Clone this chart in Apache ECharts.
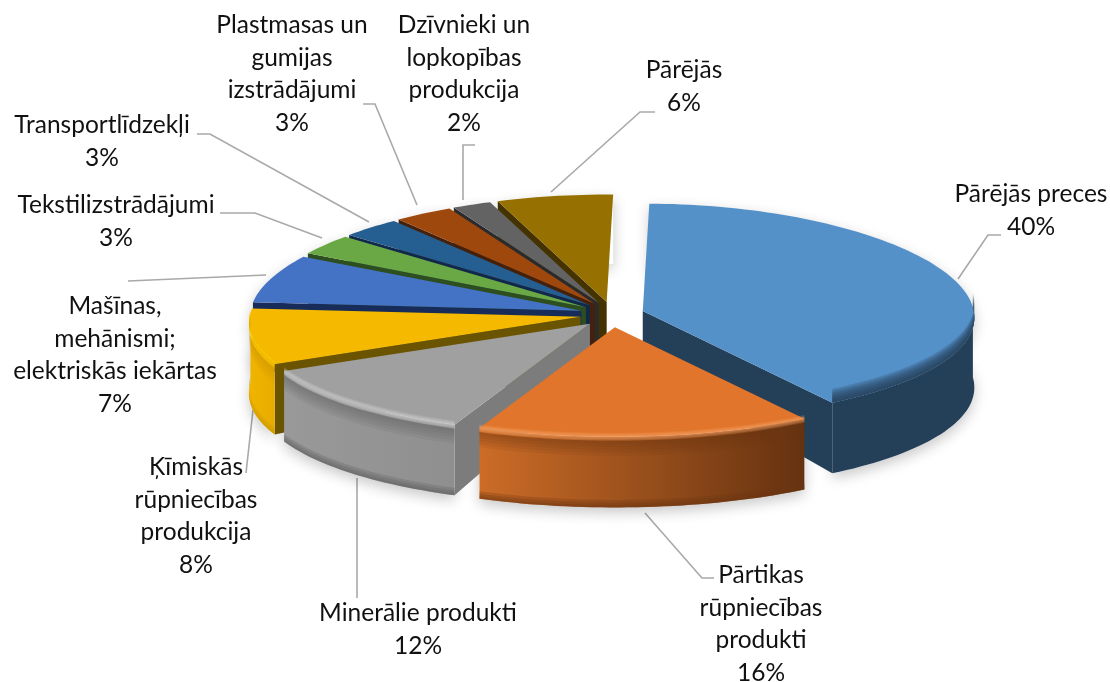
<!DOCTYPE html>
<html><head><meta charset="utf-8">
<style>html,body{margin:0;padding:0;background:#fff}#c{width:1110px;height:682px}</style>
<script src="https://cdn.jsdelivr.net/npm/echarts@6/dist/echarts.min.js"></script>
</head><body><div id="c"></div>
<script>
// ---- data ----
const categories = ['Pārējās preces','Pārtikas\nrūpniecības\nprodukti','Minerālie produkti','Ķīmiskās\nrūpniecības\nprodukcija','Mašīnas,\nmehānismi;\nelektriskās iekārtas','Tekstilizstrādājumi','Transportlīdzekļi','Plastmasas un\ngumijas\nizstrādājumi','Dzīvnieki un\nlopkopības\nprodukcija','Pārējās'];
const shares = [40.49,15.51,11.51,8.39,7.1,3,3,3,2,6];
// ---- styles and layout ----
const topColors = ['#5591c9','#e0752b','#a0a0a0','#f5ba00','#4472c4','#6aa845','#255e91','#9e480e','#636363','#967000'];
const cutColors = ['#243f58','#6b3511','#7c7c7c','#6b5400','#172c58','#2d4e1f','#10294a','#45200a','#2b2b2b','#443300'];
const wallLeft  = ['#243f58','#cc6c27','#999999','#f0b400','#172c58','#2d4e1f','#10294a','#45200a','#2b2b2b','#443300'];
const wallRight = ['#243f58','#653210','#8f8f8f','#e8ac00','#172c58','#2d4e1f','#10294a','#45200a','#2b2b2b','#443300'];
const bevel = [{c:'36,63,88',up:true},{c:'107,53,17',h:'#f8a468'},{c:'95,95,95',h:'#d8d8d8'},{c:'200,150,0',h:'#ffd000'},null,null,null,null,null,null];
const drawOrder = [9,8,7,6,5,4,3,2,0,1];
const G = {cx:612,cy:314.5,ex:32,ey:12.7,rx:331,ry:108.5,px:.06,py:.01,depth:70,rot:1.2};
const labelCenters = [[1031,194],[761,575],[418,613],[196,467],[115,306],[116,205],[102,125],[292,25],[464,25],[684,70]];
const leaders = [
 [[958,279],[988,235],[1001,235]],
 [[645,513],[702,578],[714,578]],
 [[357,478],[357,598]],
 [[253,410],[246,473]],
 [[266,275],[128,281]],
 [[322,238],[255,213],[220,213]],
 [[369,222],[210,134],[197,134]],
 [[417,205],[375,104],[363,104]],
 [[463,200],[463,145],[475,145]],
 [[551,192],[640,112],[655,112]]
];
const FONT = 'Lato, Carlito, "Noto Sans", sans-serif';
const FS = 24.5, LH = 32.6;

const total = shares.reduce((a,b)=>a+b,0);
const starts = []; shares.reduce((s,v,i)=>{starts[i]=s;return s+v;},0);
const rad = d=>d*Math.PI/180;
function span(i){const a=G.rot+starts[i]/total*360;return [a,a+shares[i]/total*360];}
function apex(i){const [a,b]=span(i);const m=rad((a+b)/2);return [G.cx+G.ex*Math.sin(m),G.cy-G.ey*Math.cos(m)];}
function rim(ap,deg,dy){const X=Math.sin(rad(deg)),Y=-Math.cos(rad(deg));
  return [ap[0]+G.rx*X*(1+G.px*Y),ap[1]+G.ry*Y*(1+G.py*Y)+(dy||0)];}
function arc(ap,a,b,dy){const n=Math.max(2,Math.ceil((b-a)/1.5));const p=[];for(let k=0;k<=n;k++)p.push(rim(ap,a+(b-a)*k/n,dy));return p;}
const depthAt=deg=>G.depth*(1+G.py*(-Math.cos(rad(deg))));
function lowerArc(ap,a,b){const n=Math.max(2,Math.ceil((b-a)/1.5));const p=[];for(let k=0;k<=n;k++){const d=a+(b-a)*k/n;p.push(rim(ap,d,depthAt(d)));}return p;}
function frontRange(a,b){const lo=Math.max(a,88),hi=Math.min(b,272);return lo<hi?[lo,hi]:null;}
const band=(ap,r,d1,d2)=>arc(ap,r[0],r[1],d1).concat(arc(ap,r[0],r[1],d2).reverse());

function renderSlice(params,api){
  const i=api.value(0), [a,b]=span(i), ap=apex(i), o=drawOrder.indexOf(i)*20;
  const kids=[];
  const poly=(pts,style,z,type)=>kids.push({type:type||'polygon',shape:{points:pts},style,z2:o+z,silent:true});
  const upper=arc(ap,a,b), lower=lowerArc(ap,a,b);
  const apB=[ap[0],ap[1]+G.depth*.78];
  // ground shadow
  poly(upper.concat(lower.slice().reverse()),{fill:'#fff',shadowColor:'rgba(0,0,0,.22)',shadowBlur:14,shadowOffsetY:5},-1000-o);
  // cut faces: only those turned towards the viewer
  if(Math.sin(rad(a))<-.1) poly([ap,rim(ap,a),rim(ap,a,depthAt(a)),apB],{fill:cutColors[i]},1);
  if(Math.sin(rad(b))>.1) poly([ap,rim(ap,b),rim(ap,b,depthAt(b)),apB],{fill:cutColors[i]},2);
  // outer wall
  const fw=frontRange(a,b);
  if(fw){const u=arc(ap,fw[0],fw[1]),l=lowerArc(ap,fw[0],fw[1]);
    poly(u.concat(l.reverse()),{fill:new echarts.graphic.LinearGradient(0,0,1,0,[{offset:0,color:wallLeft[i]},{offset:1,color:wallRight[i]}])},3);}
  // top
  poly([ap].concat(upper),{fill:topColors[i]},4);
  // bevel
  const bv=bevel[i], fr=frontRange(a,b);
  if(bv&&fr){
    if(bv.up){
      for(let k=1;k<=7;k++) poly(band(ap,fr,0,-k*2),{fill:`rgba(${bv.c},.24)`},5);
    }
    if(bv.h){
      for(let k=1;k<=5;k++) poly(band(ap,fr,k*0.8,-k*0.8),{fill:bv.h,opacity:.17},7);
      for(let k=1;k<=5;k++) poly(band(ap,fr,4,4+k*3),{fill:`rgba(${bv.c},.11)`},6);
      for(let k=1;k<=3;k++) poly(lowerArc(ap,fr[0],fr[1]).concat(lowerArc(ap,fr[0],fr[1]).map(p=>[p[0],p[1]-k*2.5]).reverse()),{fill:`rgba(${bv.c},.28)`},8);
    }
  }
  return {type:'group',children:kids};
}

const graphics=[];
categories.forEach((name,i)=>{
  const lines=name.split('\n').concat(Math.round(shares[i]/total*100)+'%');
  lines.forEach((t,k)=>graphics.push({type:'text',x:labelCenters[i][0],y:labelCenters[i][1]+k*LH,silent:true,z:10,
    style:{text:t,font:FS+'px '+FONT,fill:'#111',align:'center',verticalAlign:'middle'}}));
  graphics.push({type:'polyline',silent:true,z:1,shape:{points:leaders[i]},style:{fill:'none',stroke:'#a9a9a9',lineWidth:1.6}});
});

const chart=echarts.init(document.getElementById('c'),null,{renderer:'canvas'});
chart.setOption({
  animation:false,backgroundColor:'#fff',
  graphic:graphics,
  series:[{type:'custom',coordinateSystem:'none',renderItem:renderSlice,clip:false,silent:true,
    data:shares.map((v,i)=>[i,v,categories[i]])}]
});
</script></body></html>
